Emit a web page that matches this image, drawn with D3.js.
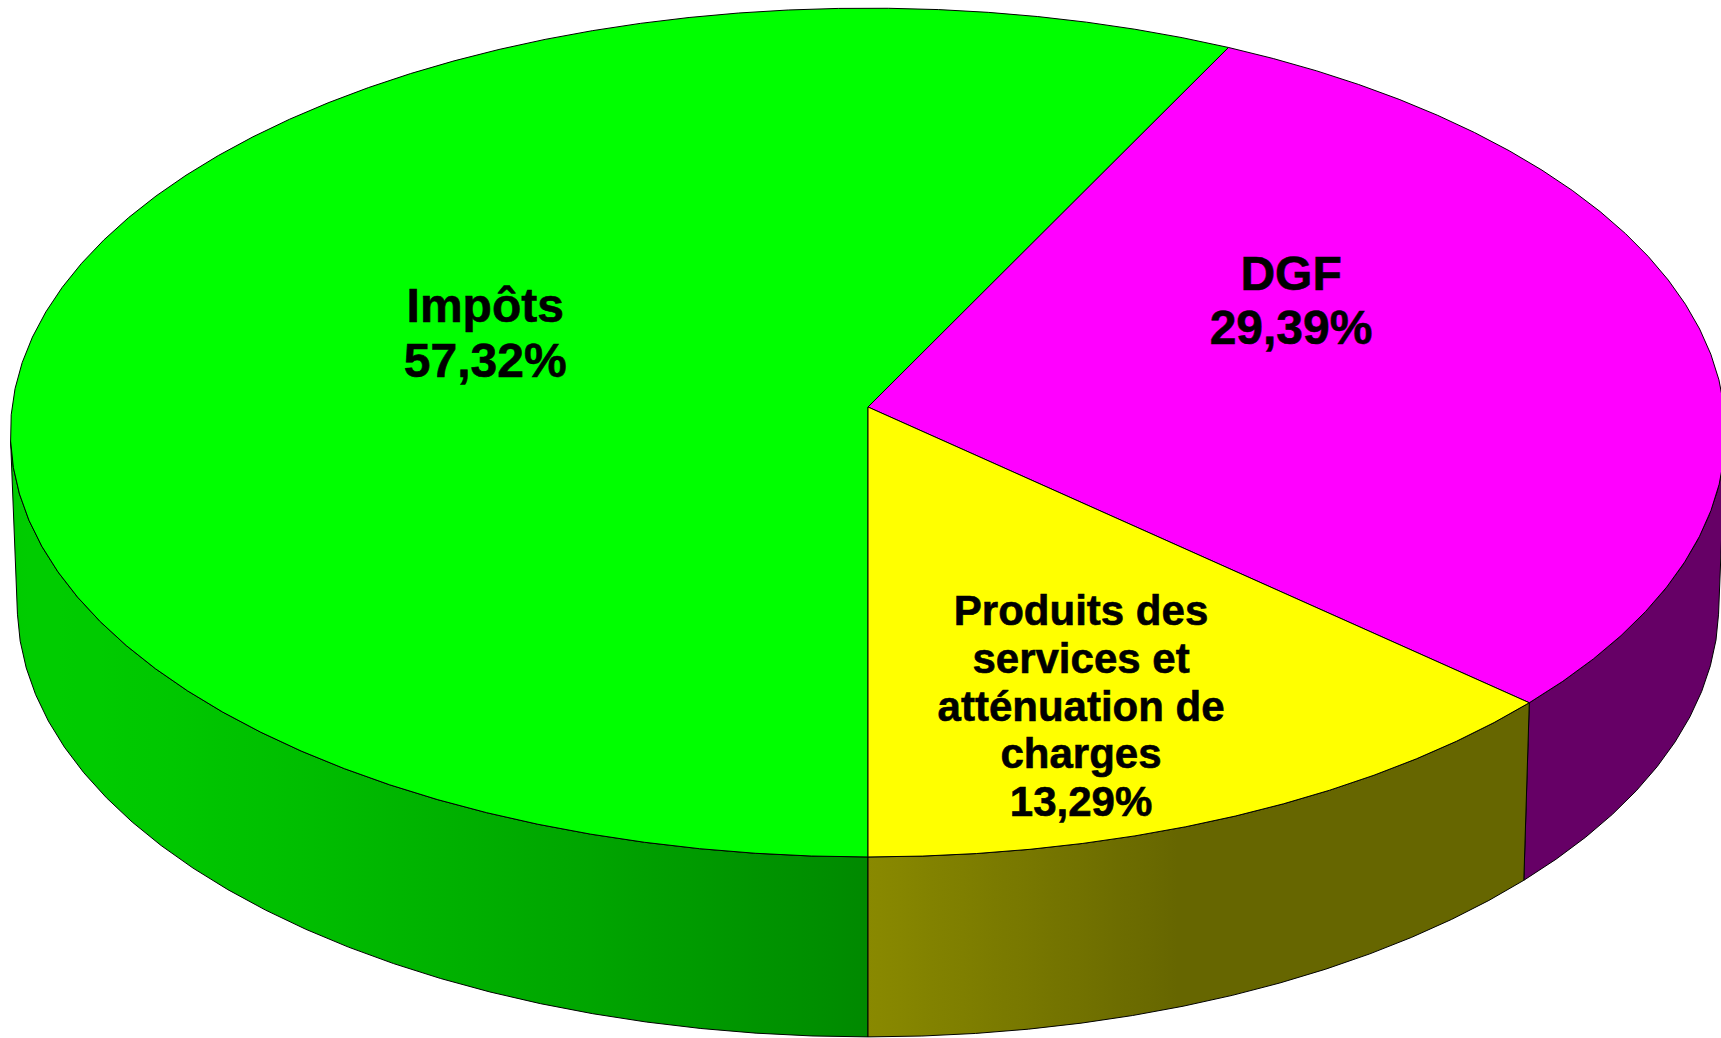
<!DOCTYPE html>
<html lang="fr">
<head>
  <meta charset="UTF-8">
  <title>Recettes - camembert 3D</title>
  <style>
    html, body { margin: 0; padding: 0; background: #fff; }
    svg { display: block; }
    .label text {
      font-family: "Liberation Sans", Arial, sans-serif;
      font-weight: bold;
      fill: #000;
      stroke: #000;
      stroke-width: 0.6px;
      text-anchor: middle;
    }
  </style>
</head>
<body>
  <div id="chart"></div>

  <script src="https://d3js.org/d3.v7.min.js"></script>
  <script>
    // données
    const categories = ['Impôts', 'DGF', 'Produits des services et atténuation de charges'];
    const shares = [57.32, 29.39, 13.29];
    const labelLines = [
      ['Impôts'],
      ['DGF'],
      ['Produits des', 'services et', 'atténuation de', 'charges']
    ];
    const topColors = ['#00ff00', '#ff00ff', '#ffff00'];

    // mise en page
    const width = 1721, height = 1038;
    const cx = 868, cy = 407;       // sommet du camembert
    const S = 856;                  // rayon à l'écran
    const sinA = 0.494, cosA = Math.sqrt(1 - sinA * sinA);  // inclinaison
    const K = 14.44;                // distance caméra / rayon (perspective)
    const thick = 0.234;            // épaisseur / rayon
    const facet = 3.6 * Math.PI / 180;  // pas des facettes du contour
    const labelSpots = [
      { r: 0.486, dA: 8.4,  size: 48 },
      { r: 0.564, dA: -16.4, size: 48 },
      { r: 0.718, dA: 4.5,  size: 42 }
    ];

    // projection perspective d'un point (angle, rayon, hauteur)
    const project = (theta, r, z) => {
      const x = r * Math.sin(theta), y = r * Math.cos(theta);
      const f = K / (K + y * cosA - z * sinA);
      return [cx + S * x * f, cy - S * (y * sinA + z * cosA) * f];
    };

    const arcPts = (a0, a1, z) => {
      const n = Math.max(1, Math.ceil(Math.abs(a1 - a0) / facet));
      return d3.range(n + 1).map(i => project(a0 + (a1 - a0) * i / n, 1, z));
    };

    // éclairage des flancs (lumière venant de la gauche)
    const lightAngle = 250 * Math.PI / 180;
    const shade = theta => 0.40 + 0.40 * Math.max(0, Math.cos(theta - lightAngle));

    const svg = d3.select('#chart')
                  .append('svg')
                  .attr('width', width)
                  .attr('height', height);

    svg.append('rect')
       .attr('width', width)
       .attr('height', height)
       .attr('fill', '#fff');

    const defs = svg.append('defs');

    const pie = d3.pie()
                  .sort(null)
                  .startAngle(Math.PI)
                  .endAngle(3 * Math.PI)
                  .value(d => d);

    const slices = pie(shares).map((d, i) => ({
      ...d,
      name: categories[i],
      color: topColors[i],
      mid: (d.startAngle + d.endAngle) / 2
    }));

    const line = d3.line();

    // bornes visibles du flanc (silhouette)
    const thetaR = Math.acos(-1 / (K * cosA));
    const thetaL = 2 * Math.PI - thetaR;

    const norm = a => ((a % (2 * Math.PI)) + 2 * Math.PI) % (2 * Math.PI);

    // flancs
    const sideG = svg.append('g').attr('class', 'sides');
    slices.forEach((d, i) => {
      const a0 = norm(d.startAngle);
      const a1 = a0 + (d.endAngle - d.startAngle);
      const b0 = Math.max(a0, thetaR);
      const b1 = Math.min(a1, thetaL);
      if (b1 <= b0) return;

      const base = d3.rgb(d.color);
      const gradId = 'side' + i;
      const xs0 = project(b0, 1, 0)[0], xs1 = project(b1, 1, 0)[0];
      const xMin = Math.min(xs0, xs1), span = Math.abs(xs1 - xs0);
      const grad = defs.append('linearGradient')
                       .attr('id', gradId)
                       .attr('gradientUnits', 'userSpaceOnUse')
                       .attr('x1', xMin).attr('x2', xMin + span)
                       .attr('y1', 0).attr('y2', 0);
      const n = 24;
      const stops = d3.range(n + 1).map(k => {
        const t = b0 + (b1 - b0) * k / n;
        const b = shade(t);
        return {
          off: (project(t, 1, 0)[0] - xMin) / span,
          col: d3.rgb(base.r * b, base.g * b, base.b * b).formatHex()
        };
      }).sort((p, q) => p.off - q.off);
      grad.selectAll('stop')
          .data(stops)
          .join('stop')
          .attr('offset', s => s.off)
          .attr('stop-color', s => s.col);

      const pts = arcPts(b0, b1, 0).concat(arcPts(b1, b0, -thick));
      sideG.append('path')
           .attr('d', line(pts) + 'Z')
           .attr('fill', `url(#${gradId})`)
           .attr('stroke', '#000')
           .attr('stroke-width', 1)
           .attr('stroke-linejoin', 'round');
    });

    // dessus
    svg.append('g')
       .attr('class', 'tops')
       .selectAll('path')
       .data(slices)
       .join('path')
       .attr('d', d => line([project(0, 0, 0)].concat(arcPts(d.startAngle, d.endAngle, 0))) + 'Z')
       .attr('fill', d => d.color)
       .attr('stroke', '#000')
       .attr('stroke-width', 1)
       .attr('stroke-linejoin', 'round');

    // étiquettes
    const frFormat = d3.formatLocale({ decimal: ',', thousands: ' ', grouping: [3], currency: ['', ' €'] })
                       .format('.2f');

    svg.append('g')
       .attr('class', 'label')
       .selectAll('text')
       .data(slices)
       .join('text')
       .each(function (d, i) {
         const spot = labelSpots[i];
         const [lx, ly] = project(d.mid + spot.dA * Math.PI / 180, spot.r, 0);
         const lines = labelLines[i].concat([frFormat(d.value) + '%']);
         const lh = spot.size * 1.14;
         const cap = spot.size * 0.716;
         const firstBase = ly - ((lines.length - 1) * lh + cap) / 2 + cap;
         d3.select(this)
           .style('font-size', spot.size + 'px')
           .selectAll('tspan')
           .data(lines)
           .join('tspan')
           .attr('x', lx)
           .attr('y', (t, j) => firstBase + j * lh)
           .text(t => t);
       });
  </script>
</body>
</html>
